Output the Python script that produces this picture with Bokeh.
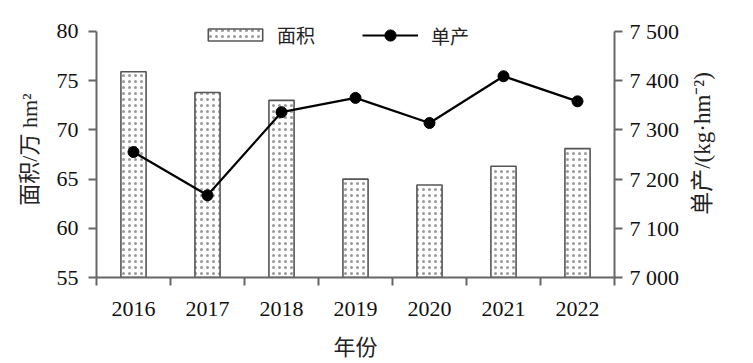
import math
import numpy as np
from bokeh.plotting import figure
from bokeh.layouts import row
from bokeh.models import Range1d, LinearAxis, FixedTicker, Legend, LegendItem, Label
from bokeh.embed import file_html
from bokeh.resources import INLINE

# ---- data ----
years = ["2016", "2017", "2018", "2019", "2020", "2021", "2022"]
area = [75.9, 73.8, 73.0, 65.0, 64.4, 66.3, 68.1]          # 面积 / 万 hm²
yield_ = [7255, 7167, 7336, 7365, 7314, 7409, 7358]        # 单产 / (kg·hm⁻²)
left_ticks = [55, 60, 65, 70, 75, 80]
right_ticks = [7000, 7100, 7200, 7300, 7400, 7500]
right_tick_labels = ["7 000", "7 100", "7 200", "7 300", "7 400", "7 500"]

FONT = "Liberation Serif"
CJK = "Liberation Serif, Noto Sans CJK SC"
AX = "#666666"
TXT = "#111111"
TTL = "#222222"

n = len(years)
xs = np.arange(n) + 0.5

# headroom above the top tick (fraction of axis span) so the legend sits inside the frame
head = 0.0405
l0, l1 = left_ticks[0], left_ticks[-1]
r0, r1 = right_ticks[0], right_ticks[-1]

p = figure(width=684, height=362, x_range=Range1d(0, n),
           y_range=Range1d(l0, l1 + head * (l1 - l0)),
           output_backend="svg", toolbar_location=None,
           min_border_left=96, min_border_right=70, min_border_top=21, min_border_bottom=84)
p.extra_y_ranges = {"yield": Range1d(r0, r1 + head * (r1 - r0))}
p.outline_line_color = None
p.xgrid.grid_line_color = None
p.ygrid.grid_line_color = None
p.background_fill_color = "white"
p.border_fill_color = "white"

bars = p.vbar(x=xs, top=area, bottom=l0, width=0.34, fill_color="white",
              line_color="#555555", line_width=1.6, hatch_pattern="dot", hatch_color="#999999",
              hatch_scale=6, hatch_weight=1)
line = p.line(xs, yield_, y_range_name="yield", line_color="black", line_width=2.2)
pts = p.scatter(xs, yield_, y_range_name="yield", size=11, color="black")

# x axis
xa = p.xaxis[0]
xa.ticker = FixedTicker(ticks=list(xs), minor_ticks=list(range(n + 1)))
xa.major_label_overrides = {float(x): y for x, y in zip(xs, years)}
xa.major_tick_line_color = None
xa.minor_tick_line_color = AX
xa.minor_tick_line_width = 2
xa.minor_tick_out = 8
xa.minor_tick_in = 0
xa.axis_line_color = AX
xa.axis_line_width = 2
xa.major_label_text_font = FONT
xa.major_label_text_font_size = "22px"
xa.major_label_text_color = TXT
xa.major_label_standoff = 16
xa.axis_label = "年份"
xa.axis_label_text_font = CJK
xa.axis_label_text_font_size = "22px"
xa.axis_label_text_font_style = "normal"
xa.axis_label_text_color = TTL
xa.axis_label_standoff = 16

# left axis
ya = p.yaxis[0]
ya.bounds = (l0, l1)
ya.ticker = FixedTicker(ticks=left_ticks)
ya.minor_tick_line_color = None
ya.major_tick_line_color = AX
ya.major_tick_line_width = 2
ya.major_tick_out = 8
ya.major_tick_in = 0
ya.axis_line_color = AX
ya.axis_line_width = 2
ya.major_label_text_font = FONT
ya.major_label_text_font_size = "22px"
ya.major_label_text_color = TXT
ya.major_label_standoff = 10
ya.axis_label = "面积/万 hm²"
ya.axis_label_text_font = CJK
ya.axis_label_text_font_size = "22px"
ya.axis_label_text_font_style = "normal"
ya.axis_label_text_color = TTL
ya.axis_label_standoff = 12

# right axis
ra = LinearAxis(y_range_name="yield", ticker=FixedTicker(ticks=right_ticks), bounds=(r0, r1))
ra.major_label_overrides = {t: s for t, s in zip(right_ticks, right_tick_labels)}
ra.minor_tick_line_color = None
ra.major_tick_line_color = AX
ra.major_tick_line_width = 2
ra.major_tick_out = 8
ra.major_tick_in = 0
ra.axis_line_color = AX
ra.axis_line_width = 2
ra.major_label_text_font = FONT
ra.major_label_text_font_size = "22px"
ra.major_label_text_color = TXT
ra.major_label_standoff = 7
p.add_layout(ra, "right")

leg1 = Legend(items=[LegendItem(label="面积", renderers=[bars])], location=(105, 229),
              glyph_width=68, glyph_height=15, label_standoff=8, padding=0, margin=0, spacing=0,
              label_text_font=CJK, label_text_font_size="19px", label_text_color=TTL,
              border_line_color=None, background_fill_alpha=0)
leg2 = Legend(items=[LegendItem(label="单产", renderers=[line, pts])], location=(266, 228),
              glyph_width=56, glyph_height=28, label_standoff=13, padding=0, margin=0, spacing=0,
              label_text_font=CJK, label_text_font_size="19px", label_text_color=TTL,
              border_line_color=None, background_fill_alpha=0)
p.add_layout(leg1)
p.add_layout(leg2)

# narrow strip to the right holding the right-axis title (reads bottom-to-top)
p2 = figure(width=68, height=362, x_range=Range1d(0, 1), y_range=Range1d(0, 1),
            x_axis_type=None, y_axis_type=None, output_backend="svg", toolbar_location=None,
            min_border_left=0, min_border_right=0, min_border_top=0, min_border_bottom=0)
p2.outline_line_color = None
p2.xgrid.grid_line_color = None
p2.ygrid.grid_line_color = None
rtitle = Label(x=18, y=134, x_units="screen", y_units="screen", angle=math.pi / 2,
               text="单产/(kg·hm⁻²)", text_align="center", text_baseline="middle",
               text_font=CJK, text_font_size="23px", text_color=TTL)
p2.add_layout(rtitle)

layout = row(p, p2, spacing=0)
open("out.html", "w").write(file_html(layout, INLINE))
